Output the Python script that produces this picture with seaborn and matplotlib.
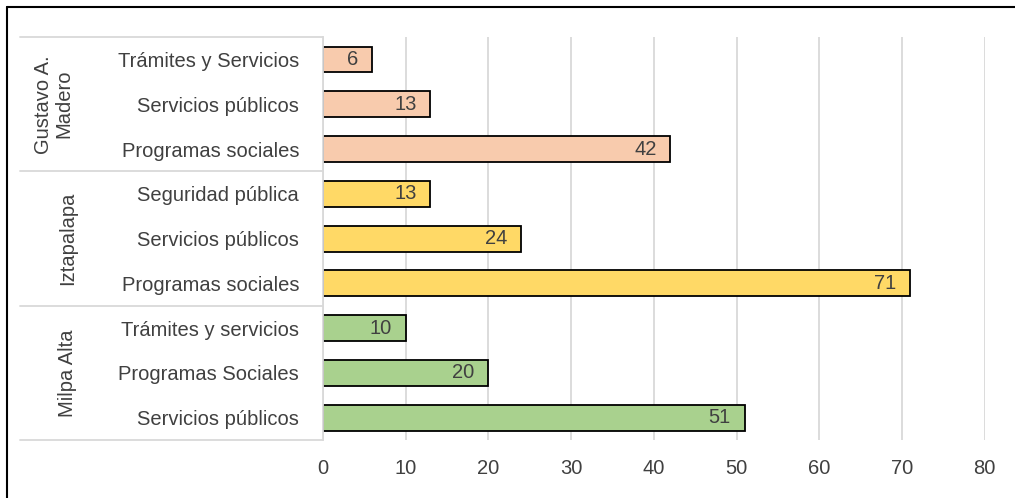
import pandas as pd
import seaborn as sns
import matplotlib.pyplot as plt
import matplotlib.transforms as mtransforms

# Datos (de arriba hacia abajo)
grupos = ["Gustavo A.\nMadero"] * 3 + ["Iztapalapa"] * 3 + ["Milpa Alta"] * 3
temas = ["Trámites y Servicios", "Servicios públicos", "Programas sociales",
         "Seguridad pública", "Servicios públicos", "Programas sociales",
         "Trámites y servicios", "Programas Sociales", "Servicios públicos"]
valores = [6, 13, 42, 13, 24, 71, 10, 20, 51]
colores = {"Gustavo A.\nMadero": "#F8CBAD", "Iztapalapa": "#FFD966", "Milpa Alta": "#A9D18E"}
ticks_x = [0, 10, 20, 30, 40, 50, 60, 70, 80]

df = pd.DataFrame({"grupo": grupos, "tema": temas, "valor": valores})
df["clave"] = [f"{g}|{t}" for g, t in zip(grupos, temas)]

sns.set_style("white")
plt.rcParams['font.family'] = ['Liberation Sans', 'DejaVu Sans']
texto = "#404040"

fig = plt.figure(figsize=(10.15, 4.98), dpi=100)
ax = fig.add_axes([0.318, 0.1165, 0.6522, 0.809])

sns.barplot(data=df, y="clave", x="valor", hue="grupo", palette=colores,
            dodge=False, orient="h", width=0.58, edgecolor="black",
            linewidth=1.3, saturation=1, legend=False, ax=ax)

# Etiquetas de valor dentro del extremo de cada barra
for cont in ax.containers:
    for barra in cont:
        w = barra.get_width()
        if w != w or w == 0:
            continue
        ax.annotate(f"{w:.0f}", (w, barra.get_y() + barra.get_height() / 2),
                    xytext=(-10, 0), textcoords="offset points",
                    ha="right", va="center", fontsize=14.5, color=texto)

ax.set_xlim(0, 80)
ax.set_ylim(8.5, -0.5)
ax.set_xticks(ticks_x)
ax.set_yticks(range(len(temas)))
ax.set_yticklabels(temas)
ax.set_xlabel("")
ax.set_ylabel("")
ax.tick_params(axis="both", length=0, labelsize=14.5, labelcolor=texto)
ax.tick_params(axis="y", pad=17)
ax.tick_params(axis="x", pad=14)
ax.grid(axis="x", color="#D9D9D9", linewidth=1.3)
ax.set_axisbelow(True)
for lado in ["top", "right", "bottom"]:
    ax.spines[lado].set_visible(False)
ax.spines["left"].set_color("#D9D9D9")
ax.spines["left"].set_linewidth(1.3)

# Separadores de grupo y etiquetas de grupo a la izquierda
trans = mtransforms.blended_transform_factory(ax.transAxes, ax.transData)
for y in [-0.5, 2.5, 5.5, 8.5]:
    ax.plot([-0.458, 0], [y, y], transform=trans, color="#D9D9D9",
            linewidth=1.3, clip_on=False)
pos_grupo = {"Gustavo A.\nMadero": -0.406, "Iztapalapa": -0.385, "Milpa Alta": -0.385}
for i, g in enumerate(dict.fromkeys(grupos)):
    ax.text(pos_grupo[g], 3 * i + 1, g, transform=trans, rotation=90,
            ha="center", va="center", fontsize=14.5, color=texto,
            multialignment="center", linespacing=1.1)

# Marco de la imagen (lado izquierdo y superior)
fig.add_artist(plt.Line2D([0.0069, 0.0069], [0, 0.986], color="black", linewidth=1.5))
fig.add_artist(plt.Line2D([0.0069, 1], [0.986, 0.986], color="black", linewidth=1.5))

fig.savefig("out.png", dpi=100)
